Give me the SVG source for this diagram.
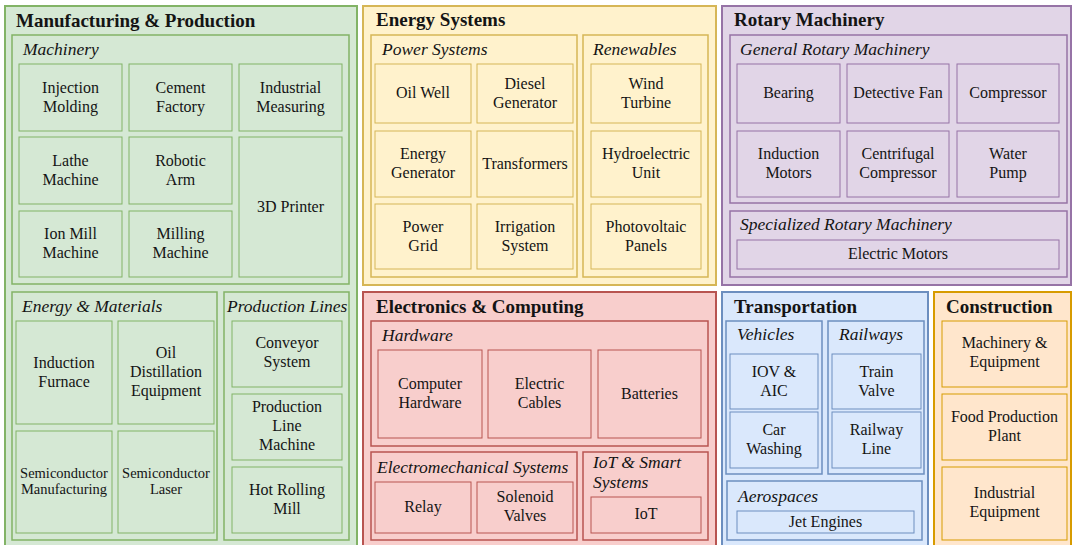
<svg xmlns="http://www.w3.org/2000/svg" width="1073" height="545" viewBox="0 0 1073 545">
<style>
text{font-family:"Liberation Serif","Times New Roman",serif;fill:#141414}
.t{font-size:19px;font-weight:bold}
.s{font-size:17.5px;font-style:italic}
.n{font-size:16px;text-anchor:middle}
.n2{font-size:14.5px;text-anchor:middle}
.o{stroke-width:2}
.g{stroke-width:1.5}
.b{stroke-width:1}
.green rect{fill:#d5e8d4;stroke:#82b366}
.yellow rect{fill:#fff2cc;stroke:#d6b656}
.purple rect{fill:#e1d5e7;stroke:#9673a6}
.red rect{fill:#f8cecc;stroke:#b85450}
.blue rect{fill:#dae8fc;stroke:#6c8ebf}
.orange rect{fill:#ffe6cc;stroke:#d79b00}
</style>
<rect width="1073" height="545" fill="#ffffff"/>

<!-- Manufacturing & Production -->
<g id="manufacturing" class="green">
<rect class="o" x="5" y="6" width="352" height="545"/>
<text class="t" x="16" y="27">Manufacturing &amp; Production</text>
<g id="machinery">
<rect class="g" x="12" y="35" width="337" height="249"/>
<text class="s" x="23" y="55">Machinery</text>
<g id="injection-molding"><rect class="b" x="19" y="64" width="103" height="67"/><text class="n"><tspan x="70.5" y="92.5">Injection</tspan><tspan x="70.5" y="111.5">Molding</tspan></text></g>
<g id="cement-factory"><rect class="b" x="129" y="64" width="103" height="67"/><text class="n"><tspan x="180.5" y="92.5">Cement</tspan><tspan x="180.5" y="111.5">Factory</tspan></text></g>
<g id="industrial-measuring"><rect class="b" x="239" y="64" width="103" height="67"/><text class="n"><tspan x="290.5" y="92.5">Industrial</tspan><tspan x="290.5" y="111.5">Measuring</tspan></text></g>
<g id="lathe-machine"><rect class="b" x="19" y="137" width="103" height="67"/><text class="n"><tspan x="70.5" y="165.5">Lathe</tspan><tspan x="70.5" y="184.5">Machine</tspan></text></g>
<g id="robotic-arm"><rect class="b" x="129" y="137" width="103" height="67"/><text class="n"><tspan x="180.5" y="165.5">Robotic</tspan><tspan x="180.5" y="184.5">Arm</tspan></text></g>
<g id="ion-mill-machine"><rect class="b" x="19" y="211" width="103" height="66"/><text class="n"><tspan x="70.5" y="239">Ion Mill</tspan><tspan x="70.5" y="258">Machine</tspan></text></g>
<g id="milling-machine"><rect class="b" x="129" y="211" width="103" height="66"/><text class="n"><tspan x="180.5" y="239">Milling</tspan><tspan x="180.5" y="258">Machine</tspan></text></g>
<g id="3d-printer"><rect class="b" x="239" y="137" width="103" height="140"/><text class="n" x="290.5" y="211.5">3D Printer</text></g>
</g>
<g id="energy-materials">
<rect class="g" x="12" y="292" width="205" height="248"/>
<text class="s" x="22" y="312">Energy &amp; Materials</text>
<g id="induction-furnace"><rect class="b" x="16" y="321" width="96" height="103"/><text class="n"><tspan x="64" y="367.5">Induction</tspan><tspan x="64" y="386.5">Furnace</tspan></text></g>
<g id="oil-distillation"><rect class="b" x="118" y="321" width="96" height="103"/><text class="n"><tspan x="166" y="357.5">Oil</tspan><tspan x="166" y="376.5">Distillation</tspan><tspan x="166" y="395.5">Equipment</tspan></text></g>
<g id="semiconductor-manufacturing"><rect class="b" x="16" y="431" width="96" height="102"/><text class="n2"><tspan x="64" y="477.5">Semiconductor</tspan><tspan x="64" y="493.5">Manufacturing</tspan></text></g>
<g id="semiconductor-laser"><rect class="b" x="118" y="431" width="96" height="102"/><text class="n2"><tspan x="166" y="477.5">Semiconductor</tspan><tspan x="166" y="493.5">Laser</tspan></text></g>
</g>
<g id="production-lines">
<rect class="g" x="224" y="292" width="125" height="248"/>
<text class="s" x="227" y="312">Production Lines</text>
<g id="conveyor-system"><rect class="b" x="232" y="321" width="110" height="66"/><text class="n"><tspan x="287" y="348">Conveyor</tspan><tspan x="287" y="367">System</tspan></text></g>
<g id="production-line-machine"><rect class="b" x="232" y="394" width="110" height="66"/><text class="n"><tspan x="287" y="412">Production</tspan><tspan x="287" y="431">Line</tspan><tspan x="287" y="450">Machine</tspan></text></g>
<g id="hot-rolling-mill"><rect class="b" x="232" y="467" width="110" height="66"/><text class="n"><tspan x="287" y="495">Hot Rolling</tspan><tspan x="287" y="514">Mill</tspan></text></g>
</g>
</g>

<!-- Energy Systems -->
<g id="energy-systems" class="yellow">
<rect class="o" x="363" y="6" width="353" height="279"/>
<text class="t" x="376" y="26">Energy Systems</text>
<g id="power-systems">
<rect class="g" x="371" y="35" width="206" height="242"/>
<text class="s" x="382" y="55">Power Systems</text>
<g id="oil-well"><rect class="b" x="375" y="64" width="96" height="59"/><text class="n" x="423" y="98">Oil Well</text></g>
<g id="diesel-generator"><rect class="b" x="477" y="64" width="96" height="59"/><text class="n"><tspan x="525" y="88.5">Diesel</tspan><tspan x="525" y="107.5">Generator</tspan></text></g>
<g id="energy-generator"><rect class="b" x="375" y="131" width="96" height="66"/><text class="n"><tspan x="423" y="159">Energy</tspan><tspan x="423" y="178">Generator</tspan></text></g>
<g id="transformers"><rect class="b" x="477" y="131" width="96" height="66"/><text class="n" x="525" y="168.5">Transformers</text></g>
<g id="power-grid"><rect class="b" x="375" y="204" width="96" height="65"/><text class="n"><tspan x="423" y="231.5">Power</tspan><tspan x="423" y="250.5">Grid</tspan></text></g>
<g id="irrigation-system"><rect class="b" x="477" y="204" width="96" height="65"/><text class="n"><tspan x="525" y="231.5">Irrigation</tspan><tspan x="525" y="250.5">System</tspan></text></g>
</g>
<g id="renewables">
<rect class="g" x="583" y="35" width="125" height="242"/>
<text class="s" x="593" y="55">Renewables</text>
<g id="wind-turbine"><rect class="b" x="591" y="64" width="110" height="59"/><text class="n"><tspan x="646" y="88.5">Wind</tspan><tspan x="646" y="107.5">Turbine</tspan></text></g>
<g id="hydroelectric-unit"><rect class="b" x="591" y="131" width="110" height="66"/><text class="n"><tspan x="646" y="159">Hydroelectric</tspan><tspan x="646" y="178">Unit</tspan></text></g>
<g id="photovoltaic-panels"><rect class="b" x="591" y="204" width="110" height="65"/><text class="n"><tspan x="646" y="231.5">Photovoltaic</tspan><tspan x="646" y="250.5">Panels</tspan></text></g>
</g>
</g>

<!-- Electronics & Computing -->
<g id="electronics" class="red">
<rect class="o" x="363" y="292" width="353" height="255"/>
<text class="t" x="376" y="313">Electronics &amp; Computing</text>
<g id="hardware">
<rect class="g" x="371" y="321" width="337" height="125"/>
<text class="s" x="382" y="341">Hardware</text>
<g id="computer-hardware"><rect class="b" x="378" y="350" width="104" height="88"/><text class="n"><tspan x="430" y="389">Computer</tspan><tspan x="430" y="408">Hardware</tspan></text></g>
<g id="electric-cables"><rect class="b" x="488" y="350" width="103" height="88"/><text class="n"><tspan x="539.5" y="389">Electric</tspan><tspan x="539.5" y="408">Cables</tspan></text></g>
<g id="batteries"><rect class="b" x="598" y="350" width="103" height="88"/><text class="n" x="649.5" y="398.5">Batteries</text></g>
</g>
<g id="electromechanical">
<rect class="g" x="371" y="452" width="206" height="88"/>
<text class="s" x="377" y="473">Electromechanical Systems</text>
<g id="relay"><rect class="b" x="375" y="482" width="96" height="51"/><text class="n" x="423" y="512">Relay</text></g>
<g id="solenoid-valves"><rect class="b" x="477" y="482" width="96" height="51"/><text class="n"><tspan x="525" y="502">Solenoid</tspan><tspan x="525" y="521">Valves</tspan></text></g>
</g>
<g id="iot-smart">
<rect class="g" x="583" y="452" width="125" height="88"/>
<text class="s"><tspan x="593" y="468">IoT &amp; Smart</tspan><tspan x="593" y="488">Systems</tspan></text>
<g id="iot"><rect class="b" x="591" y="497" width="110" height="36"/><text class="n" x="646" y="519">IoT</text></g>
</g>
</g>

<!-- Rotary Machinery -->
<g id="rotary" class="purple">
<rect class="o" x="722" y="6" width="349" height="279"/>
<text class="t" x="734" y="26">Rotary Machinery</text>
<g id="general-rotary">
<rect class="g" x="730" y="35" width="337" height="168"/>
<text class="s" x="740" y="55">General Rotary Machinery</text>
<g id="bearing"><rect class="b" x="737" y="64" width="103" height="59"/><text class="n" x="788.5" y="98">Bearing</text></g>
<g id="detective-fan"><rect class="b" x="847" y="64" width="102" height="59"/><text class="n" x="898" y="98">Detective Fan</text></g>
<g id="compressor"><rect class="b" x="957" y="64" width="102" height="59"/><text class="n" x="1008" y="98">Compressor</text></g>
<g id="induction-motors"><rect class="b" x="737" y="131" width="103" height="66"/><text class="n"><tspan x="788.5" y="159">Induction</tspan><tspan x="788.5" y="178">Motors</tspan></text></g>
<g id="centrifugal-compressor"><rect class="b" x="847" y="131" width="102" height="66"/><text class="n"><tspan x="898" y="159">Centrifugal</tspan><tspan x="898" y="178">Compressor</tspan></text></g>
<g id="water-pump"><rect class="b" x="957" y="131" width="102" height="66"/><text class="n"><tspan x="1008" y="159">Water</tspan><tspan x="1008" y="178">Pump</tspan></text></g>
</g>
<g id="specialized-rotary">
<rect class="g" x="730" y="211" width="337" height="66"/>
<text class="s" x="740" y="230">Specialized Rotary Machinery</text>
<g id="electric-motors"><rect class="b" x="737" y="240" width="322" height="29"/><text class="n" x="898" y="259">Electric Motors</text></g>
</g>
</g>

<!-- Transportation -->
<g id="transportation" class="blue">
<rect class="o" x="722" y="292" width="206" height="255"/>
<text class="t" x="734" y="313">Transportation</text>
<g id="vehicles">
<rect class="g" x="726" y="321" width="96" height="153"/>
<text class="s" x="737" y="340">Vehicles</text>
<g id="iov-aic"><rect class="b" x="730" y="354" width="88" height="55"/><text class="n"><tspan x="774" y="376.5">IOV &amp;</tspan><tspan x="774" y="395.5">AIC</tspan></text></g>
<g id="car-washing"><rect class="b" x="730" y="412" width="88" height="56"/><text class="n"><tspan x="774" y="435">Car</tspan><tspan x="774" y="454">Washing</tspan></text></g>
</g>
<g id="railways">
<rect class="g" x="828" y="321" width="96" height="153"/>
<text class="s" x="839" y="340">Railways</text>
<g id="train-valve"><rect class="b" x="832" y="354" width="89" height="55"/><text class="n"><tspan x="876.5" y="376.5">Train</tspan><tspan x="876.5" y="395.5">Valve</tspan></text></g>
<g id="railway-line"><rect class="b" x="832" y="412" width="89" height="56"/><text class="n"><tspan x="876.5" y="435">Railway</tspan><tspan x="876.5" y="454">Line</tspan></text></g>
</g>
<g id="aerospaces">
<rect class="g" x="727" y="481" width="195" height="59"/>
<text class="s" x="738" y="502">Aerospaces</text>
<g id="jet-engines"><rect class="b" x="737" y="511" width="177" height="22"/><text class="n" x="825.5" y="527">Jet Engines</text></g>
</g>
</g>

<!-- Construction -->
<g id="construction" class="orange">
<rect class="o" x="934" y="292" width="137" height="255"/>
<text class="t" x="946" y="313">Construction</text>
<g id="machinery-equipment"><rect class="b" x="942" y="321" width="125" height="66"/><text class="n"><tspan x="1004.5" y="348">Machinery &amp;</tspan><tspan x="1004.5" y="367">Equipment</tspan></text></g>
<g id="food-production-plant"><rect class="b" x="942" y="394" width="125" height="66"/><text class="n"><tspan x="1004.5" y="422">Food Production</tspan><tspan x="1004.5" y="441">Plant</tspan></text></g>
<g id="industrial-equipment"><rect class="b" x="942" y="467" width="125" height="73"/><text class="n"><tspan x="1004.5" y="498">Industrial</tspan><tspan x="1004.5" y="517">Equipment</tspan></text></g>
</g>

<g id="connectors"/>
</svg>
